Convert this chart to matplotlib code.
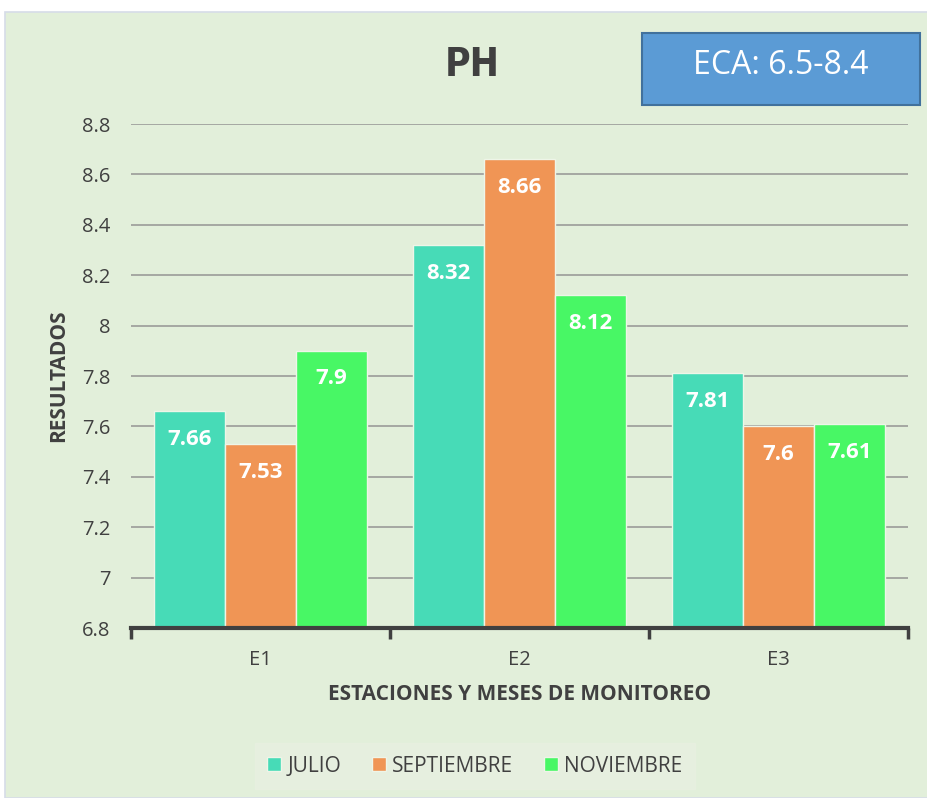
import matplotlib.pyplot as plt
from matplotlib.patches import Rectangle, Patch
import numpy as np

# datos
estaciones = ["E1", "E2", "E3"]
meses = ["JULIO", "SEPTIEMBRE", "NOVIEMBRE"]
julio = [7.66, 8.32, 7.81]
septiembre = [7.53, 8.66, 7.6]
noviembre = [7.9, 8.12, 7.61]
yticks = [6.8, 7, 7.2, 7.4, 7.6, 7.8, 8, 8.2, 8.4, 8.6, 8.8]
yticklabels = ["6.8", "7", "7.2", "7.4", "7.6", "7.8", "8", "8.2", "8.4", "8.6", "8.8"]

colores = ["#47DBB7", "#F09555", "#48F765"]
fondo = "#E2EFDA"
texto = "#404040"
fuente = ["Open Sans", "DejaVu Sans"]

plt.rcParams['font.family'] = fuente

fig = plt.figure(figsize=(9.28, 7.98), dpi=100)
fig.patch.set_facecolor("white")
# panel verde de fondo
fig.patches.append(Rectangle((5 / 928, 0), 1, 1 - 12 / 798, transform=fig.transFigure,
                             facecolor=fondo, edgecolor="#D6DCE8", linewidth=1.2, zorder=-10))

ax = fig.add_axes([131 / 928, 1 - 628 / 798, 777 / 928, 504 / 798])
ax.patch.set_alpha(0)

x = np.arange(len(estaciones))
ancho = 0.274
series = [julio, septiembre, noviembre]
for i, (vals, col, nombre) in enumerate(zip(series, colores, meses)):
    pos = x + (i - 1) * ancho
    ax.bar(pos, np.array(vals) - 6.8, bottom=6.8, width=ancho, color=col,
           edgecolor="#EEF5E8", linewidth=1, label=nombre, zorder=3)
    # etiquetas de valor dentro de la barra
    for px, v in zip(pos, vals):
        ax.text(px, v - 0.07, f"{v:g}", ha="center", va="top", color="white",
                fontsize=16, fontweight="bold", zorder=4)

ax.set_xlim(-0.5, 2.5)
ax.set_ylim(6.8, 8.8)
ax.set_yticks(yticks)
ax.set_yticklabels(yticklabels, fontsize=14.5, color=texto)
ax.yaxis.grid(True, color="#A5A8A2", linewidth=1.4, zorder=1)
ax.tick_params(axis="y", length=0, pad=15)

# eje x: marcas en los limites de categoria
ax.set_xticks([-0.5, 0.5, 1.5, 2.5])
ax.set_xticklabels([])
ax.set_xticks(x, minor=True)
ax.set_xticklabels(estaciones, minor=True, fontsize=14.5, color=texto)
ax.tick_params(axis="x", which="major", length=8, width=2.5, color=texto, direction="out")
ax.tick_params(axis="x", which="minor", length=0, pad=16)

for s in ["top", "right", "left"]:
    ax.spines[s].set_visible(False)
ax.spines["bottom"].set_color(texto)
ax.spines["bottom"].set_linewidth(3)
ax.spines["bottom"].set_zorder(5)

ax.set_ylabel("RESULTADOS", fontsize=15, fontweight="bold", color=texto)
ax.set_xlabel("ESTACIONES Y MESES DE MONITOREO", fontsize=15, fontweight="bold", color=texto)
ax.xaxis.set_label_coords(0.5, -0.112)
ax.yaxis.set_label_coords(-0.08, 0.5)

# titulo
fig.text(472 / 928, 1 - 65 / 798, "PH", ha="center", va="center", fontsize=28,
         fontweight="bold", color=texto, family="DejaVu Sans", stretch="condensed")

# recuadro ECA
fig.patches.append(Rectangle((642 / 928, 1 - 105 / 798), 278 / 928, 72 / 798,
                             transform=fig.transFigure, facecolor="#5B9BD5",
                             edgecolor="#41719C", linewidth=1.5, zorder=2))
fig.text(781 / 928, 1 - 66 / 798, "ECA: 6.5-8.4", ha="center", va="center", fontsize=23,
         color="white", zorder=3)

# leyenda
handles = [Patch(facecolor=c, edgecolor="#EEF5E8") for c in colores]
leg = fig.legend(handles, meses, loc="center", bbox_to_anchor=(475 / 928, 1 - 766 / 798),
                 ncol=3, frameon=True, fontsize=15, handlelength=0.65, handleheight=0.65,
                 handletextpad=0.3, columnspacing=1.5, borderpad=0.6, fancybox=False)
leg.get_frame().set_facecolor("#E8F0E1")
leg.get_frame().set_edgecolor("#E8F0E1")
for t in leg.get_texts():
    t.set_color(texto)

fig.savefig("out.png", dpi=100, facecolor=fig.get_facecolor())
